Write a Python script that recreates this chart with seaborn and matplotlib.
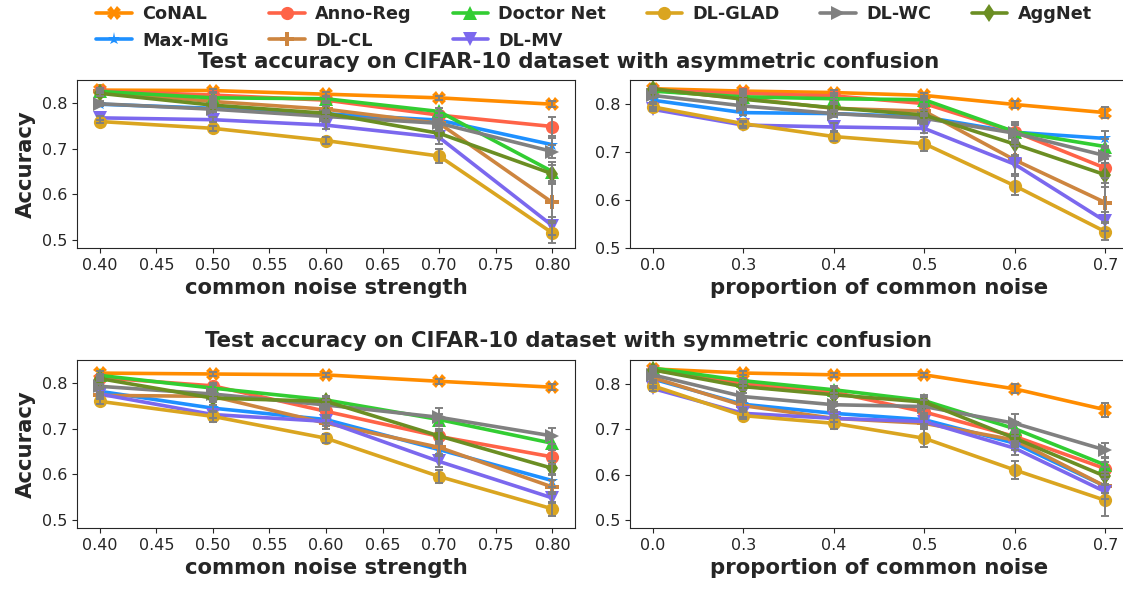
import pandas as pd
import matplotlib
matplotlib.use('Agg')
import matplotlib.pyplot as plt
import seaborn as sns

sns.set_style('ticks')
plt.rcParams['font.family'] = ['DejaVu Sans']

# methods in legend order (column-major)
methods = ['CoNAL', 'Max-MIG', 'Anno-Reg', 'DL-CL', 'Doctor Net', 'DL-MV', 'DL-GLAD', 'DL-WC', 'AggNet']
colors = {'CoNAL': '#FF8C00', 'Anno-Reg': '#FF6347', 'Doctor Net': '#32CD32', 'DL-GLAD': '#DAA520',
          'DL-WC': '#808080', 'AggNet': '#6B8E23', 'Max-MIG': '#1E90FF', 'DL-CL': '#CD853F',
          'DL-MV': '#7B68EE'}
markers = {'CoNAL': 'X', 'Anno-Reg': 'o', 'Doctor Net': '^', 'DL-GLAD': 'o', 'DL-WC': '>',
           'AggNet': 'd', 'Max-MIG': '*', 'DL-CL': 'P', 'DL-MV': 'v'}

strength = [0.4, 0.5, 0.6, 0.7, 0.8]
proportion = ['0.0', '0.3', '0.4', '0.5', '0.6', '0.7']

# asymmetric confusion, common noise strength
asym_str = {
    'CoNAL': [0.829, 0.828, 0.820, 0.812, 0.798],
    'Anno-Reg': [0.827, 0.818, 0.807, 0.774, 0.749],
    'Doctor Net': [0.826, 0.812, 0.810, 0.782, 0.650],
    'DL-GLAD': [0.760, 0.745, 0.718, 0.684, 0.515],
    'DL-WC': [0.799, 0.787, 0.771, 0.756, 0.694],
    'AggNet': [0.822, 0.796, 0.778, 0.734, 0.645],
    'Max-MIG': [0.798, 0.789, 0.777, 0.763, 0.709],
    'DL-CL': [0.826, 0.804, 0.787, 0.756, 0.582],
    'DL-MV': [0.768, 0.764, 0.752, 0.725, 0.531],
}
asym_str_err = {
    'CoNAL': [0.004, 0.004, 0.005, 0.005, 0.006],
    'Anno-Reg': [0.004, 0.005, 0.006, 0.008, 0.020],
    'Doctor Net': [0.004, 0.005, 0.006, 0.008, 0.020],
    'DL-GLAD': [0.004, 0.005, 0.008, 0.015, 0.022],
    'DL-WC': [0.005, 0.006, 0.007, 0.008, 0.015],
    'AggNet': [0.005, 0.006, 0.008, 0.010, 0.020],
    'Max-MIG': [0.004, 0.005, 0.006, 0.008, 0.015],
    'DL-CL': [0.004, 0.005, 0.006, 0.010, 0.040],
    'DL-MV': [0.004, 0.005, 0.008, 0.015, 0.020],
}

# asymmetric confusion, proportion of common noise
asym_prop = {
    'CoNAL': [0.833, 0.828, 0.825, 0.819, 0.800, 0.783],
    'Anno-Reg': [0.830, 0.823, 0.818, 0.802, 0.743, 0.667],
    'Doctor Net': [0.828, 0.816, 0.812, 0.810, 0.743, 0.712],
    'DL-GLAD': [0.795, 0.760, 0.733, 0.718, 0.630, 0.534],
    'DL-WC': [0.819, 0.797, 0.781, 0.771, 0.740, 0.693],
    'AggNet': [0.833, 0.811, 0.793, 0.778, 0.717, 0.653],
    'Max-MIG': [0.809, 0.783, 0.781, 0.774, 0.742, 0.729],
    'DL-CL': [0.830, 0.813, 0.792, 0.786, 0.684, 0.595],
    'DL-MV': [0.790, 0.757, 0.753, 0.750, 0.675, 0.556],
}
asym_prop_err = {
    'CoNAL': [0.004, 0.004, 0.005, 0.006, 0.008, 0.012],
    'Anno-Reg': [0.004, 0.005, 0.006, 0.008, 0.020, 0.020],
    'Doctor Net': [0.004, 0.005, 0.006, 0.008, 0.015, 0.015],
    'DL-GLAD': [0.005, 0.006, 0.010, 0.015, 0.020, 0.018],
    'DL-WC': [0.005, 0.006, 0.008, 0.010, 0.020, 0.015],
    'AggNet': [0.005, 0.006, 0.008, 0.010, 0.025, 0.025],
    'Max-MIG': [0.004, 0.005, 0.006, 0.008, 0.015, 0.015],
    'DL-CL': [0.004, 0.005, 0.008, 0.010, 0.030, 0.040],
    'DL-MV': [0.004, 0.006, 0.008, 0.010, 0.020, 0.020],
}

# symmetric confusion, common noise strength
sym_str = {
    'CoNAL': [0.822, 0.820, 0.818, 0.804, 0.791],
    'Anno-Reg': [0.812, 0.794, 0.738, 0.683, 0.638],
    'Doctor Net': [0.817, 0.789, 0.763, 0.720, 0.668],
    'DL-GLAD': [0.760, 0.727, 0.679, 0.595, 0.524],
    'DL-WC': [0.793, 0.776, 0.752, 0.725, 0.684],
    'AggNet': [0.810, 0.767, 0.760, 0.684, 0.613],
    'Max-MIG': [0.782, 0.745, 0.720, 0.654, 0.586],
    'DL-CL': [0.773, 0.771, 0.712, 0.659, 0.572],
    'DL-MV': [0.776, 0.731, 0.716, 0.628, 0.548],
}
sym_str_err = {
    'CoNAL': [0.004, 0.004, 0.005, 0.005, 0.006],
    'Anno-Reg': [0.004, 0.006, 0.008, 0.012, 0.015],
    'Doctor Net': [0.004, 0.006, 0.008, 0.012, 0.015],
    'DL-GLAD': [0.005, 0.012, 0.010, 0.015, 0.015],
    'DL-WC': [0.006, 0.008, 0.010, 0.020, 0.018],
    'AggNet': [0.006, 0.008, 0.010, 0.015, 0.015],
    'Max-MIG': [0.005, 0.008, 0.008, 0.012, 0.015],
    'DL-CL': [0.005, 0.008, 0.012, 0.015, 0.015],
    'DL-MV': [0.005, 0.008, 0.010, 0.012, 0.012],
}

# symmetric confusion, proportion of common noise
sym_prop = {
    'CoNAL': [0.833, 0.824, 0.820, 0.820, 0.789, 0.743],
    'Anno-Reg': [0.831, 0.801, 0.782, 0.738, 0.684, 0.613],
    'Doctor Net': [0.835, 0.807, 0.787, 0.763, 0.701, 0.621],
    'DL-GLAD': [0.796, 0.730, 0.713, 0.680, 0.610, 0.543],
    'DL-WC': [0.820, 0.772, 0.754, 0.750, 0.713, 0.654],
    'AggNet': [0.831, 0.794, 0.776, 0.760, 0.680, 0.596],
    'Max-MIG': [0.811, 0.755, 0.735, 0.721, 0.669, 0.574],
    'DL-CL': [0.814, 0.752, 0.724, 0.713, 0.676, 0.574],
    'DL-MV': [0.790, 0.735, 0.724, 0.717, 0.658, 0.562],
}
sym_prop_err = {
    'CoNAL': [0.004, 0.004, 0.005, 0.005, 0.010, 0.015],
    'Anno-Reg': [0.004, 0.006, 0.008, 0.012, 0.015, 0.015],
    'Doctor Net': [0.004, 0.006, 0.008, 0.012, 0.015, 0.015],
    'DL-GLAD': [0.005, 0.008, 0.012, 0.020, 0.020, 0.035],
    'DL-WC': [0.005, 0.008, 0.015, 0.015, 0.020, 0.015],
    'AggNet': [0.005, 0.008, 0.015, 0.012, 0.015, 0.020],
    'Max-MIG': [0.005, 0.008, 0.008, 0.010, 0.015, 0.015],
    'DL-CL': [0.005, 0.008, 0.008, 0.010, 0.015, 0.015],
    'DL-MV': [0.005, 0.008, 0.008, 0.010, 0.015, 0.015],
}


def long_form(means, errs, xs):
    rows = []
    for m in methods:
        for x, v, e in zip(xs, means[m], errs[m]):
            rows.append({'x': x, 'acc': v, 'err': e, 'method': m})
    return pd.DataFrame(rows)


def draw(ax, means, errs, xs, legend=False):
    df = long_form(means, errs, xs)
    sns.lineplot(data=df, x='x', y='acc', hue='method', style='method', hue_order=methods,
                 style_order=methods, palette=colors, markers=markers, dashes=False,
                 linewidth=2.6, markersize=9.5, markeredgewidth=0, ax=ax, legend=legend,
                 sort=False)
    ax.errorbar(df['x'], df['acc'], yerr=df['err'], fmt='none', ecolor='#808080',
                elinewidth=1.4, capsize=3, capthick=1.4, zorder=5)
    ax.set_yticks([0.5, 0.6, 0.7, 0.8])
    ax.tick_params(labelsize=11.5)
    ax.set_ylabel('')


fig = plt.figure(figsize=(11.23, 5.89), dpi=100)
ax1 = fig.add_axes([0.0686, 0.579, 0.4434, 0.285])
ax2 = fig.add_axes([0.561, 0.579, 0.4434, 0.285])
ax3 = fig.add_axes([0.0686, 0.1036, 0.4434, 0.2854])
ax4 = fig.add_axes([0.561, 0.1036, 0.4434, 0.2854])

draw(ax1, asym_str, asym_str_err, strength, legend=True)
draw(ax2, asym_prop, asym_prop_err, proportion)
draw(ax3, sym_str, sym_str_err, strength)
draw(ax4, sym_prop, sym_prop_err, proportion)

ax1.set_ylim(0.482, 0.851)
ax2.set_ylim(0.5, 0.851)
ax3.set_ylim(0.482, 0.851)
ax4.set_ylim(0.482, 0.853)
lab_font = {'fontsize': 15.3, 'fontweight': 'bold'}
for ax in (ax1, ax3):
    ax.set_xticks([0.4, 0.45, 0.5, 0.55, 0.6, 0.65, 0.7, 0.75, 0.8])
    ax.set_xticklabels(['0.40', '0.45', '0.50', '0.55', '0.60', '0.65', '0.70', '0.75', '0.80'])
    ax.set_xlim(0.38, 0.82)
    ax.set_xlabel('common noise strength', **lab_font)
    ax.set_ylabel('Accuracy', **lab_font)
for ax in (ax2, ax4):
    ax.set_xlim(-0.25, 5.25)
    ax.set_xlabel('proportion of common noise', **lab_font)

handles, labels = ax1.get_legend_handles_labels()
ax1.get_legend().remove()
fig.legend(handles, labels, loc='upper center', bbox_to_anchor=(0.529, 1.01), ncol=6,
           frameon=False, prop={'size': 12.7, 'weight': 'bold'}, columnspacing=2.3,
           handletextpad=0.6, borderaxespad=0.2)

fig.text(0.506, 1 - 62 / 589, 'Test accuracy on CIFAR-10 dataset with asymmetric confusion',
         ha='center', va='center', fontsize=15.3, fontweight='bold')
fig.text(0.506, 1 - 341 / 589, 'Test accuracy on CIFAR-10 dataset with symmetric confusion',
         ha='center', va='center', fontsize=15.3, fontweight='bold')

fig.savefig('out.png', dpi=100)
